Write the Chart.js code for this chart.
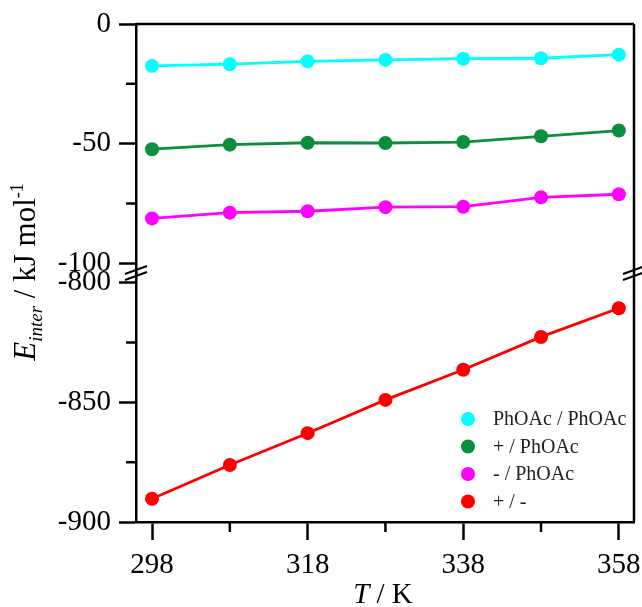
<!DOCTYPE html>
<html>
<head>
<meta charset="utf-8">
<script src="https://cdn.jsdelivr.net/npm/chart.js@4.4.1/dist/chart.umd.min.js"></script>
<style>
  html, body { margin: 0; padding: 0; background: #fff; }
  #wrap { width: 642px; height: 607px; }
</style>
</head>
<body>
<div id="wrap"><canvas id="energyChart" width="642" height="607"></canvas></div>
<script>
// data
var temps = [298, 308, 318, 328, 338, 348, 358];
var phoacPhoac = [-17.5, -16.8, -15.6, -15.0, -14.5, -14.3, -12.8];
var plusPhoac = [-52.3, -50.4, -49.6, -49.7, -49.3, -46.9, -44.5];
var minusPhoac = [-81.2, -78.8, -78.2, -76.5, -76.3, -72.4, -71.1];
var plusMinus = [-890.3, -876.2, -862.9, -849.0, -836.4, -822.7, -810.7];

var seriesLabels = ["PhOAc / PhOAc", "+ / PhOAc", "- / PhOAc", "+ / -"];
var seriesColors = ["#00ffff", "#0b8f3c", "#ff00ff", "#ff0000"];

// ticks
var xMajor = [298, 318, 338, 358];
var xMinor = [308, 328, 348];
var yTopMajor = [0, -50, -100];
var yTopMinor = [-25, -75];
var yBotMajor = [-800, -850, -900];
var yBotMinor = [-825, -875];

var serif = '"Liberation Serif", "Times New Roman", serif';

function pts(vals) {
  return temps.map(function (t, i) { return {x: t, y: vals[i]}; });
}

function ds(idx, vals, axis) {
  return {
    label: seriesLabels[idx],
    data: pts(vals),
    yAxisID: axis,
    borderColor: seriesColors[idx],
    backgroundColor: seriesColors[idx],
    pointBackgroundColor: seriesColors[idx],
    pointBorderWidth: 0,
    pointRadius: 7,
    borderWidth: 2.8,
    tension: 0
  };
}

function yAxis(min, max, major) {
  return {
    type: 'linear',
    position: 'left',
    stack: 'y',
    stackWeight: 1,
    min: min,
    max: max,
    border: {color: '#000', width: 2.5},
    grid: {drawOnChartArea: false, drawTicks: true, tickLength: 17, tickColor: '#000', tickWidth: 2.5},
    ticks: {font: {family: serif, size: 29}, color: '#000', padding: 8,
      callback: function (v) { return String(v); }},
    afterBuildTicks: function (s) { s.ticks = major.map(function (v) { return {value: v}; }); },
    afterFit: function (s) { s.width = 136; s.paddingTop = 0; s.paddingBottom = 0; }
  };
}

// minor ticks, top/right frame, axis breaks, titles, legend
var extras = {
  id: 'extras',
  afterDraw: function (chart) {
    var ctx = chart.ctx, a = chart.chartArea, sc = chart.scales;
    ctx.save();
    ctx.strokeStyle = '#000';
    ctx.lineWidth = 2.5;
    ctx.beginPath();
    ctx.moveTo(a.left, a.top); ctx.lineTo(a.right, a.top);
    ctx.moveTo(a.right, a.top); ctx.lineTo(a.right, a.bottom);
    xMinor.forEach(function (v) {
      var px = sc.x.getPixelForValue(v);
      ctx.moveTo(px, a.bottom); ctx.lineTo(px, a.bottom + 10);
    });
    yTopMinor.forEach(function (v) {
      var py = sc.yTop.getPixelForValue(v);
      ctx.moveTo(a.left - 10, py); ctx.lineTo(a.left, py);
    });
    yBotMinor.forEach(function (v) {
      var py = sc.yBot.getPixelForValue(v);
      ctx.moveTo(a.left - 10, py); ctx.lineTo(a.left, py);
    });
    ctx.stroke();

    // axis break marks
    var by = sc.yTop.bottom;
    ctx.lineWidth = 2;
    ctx.beginPath();
    [a.left, a.right].forEach(function (cx) {
      ctx.moveTo(cx - 11, by + 1); ctx.lineTo(cx + 11, by - 7);
      ctx.moveTo(cx - 11, by + 7); ctx.lineTo(cx + 11, by - 1);
    });
    ctx.stroke();

    // y title
    ctx.fillStyle = '#000';
    ctx.textBaseline = 'alphabetic';
    ctx.textAlign = 'left';
    var parts = [
      {t: 'E', f: 'italic 31px ' + serif, dy: 0},
      {t: 'inter', f: 'italic 19px ' + serif, dy: 7},
      {t: ' / kJ mol', f: '31px ' + serif, dy: 0},
      {t: '-1', f: '18px ' + serif, dy: -12}
    ];
    var total = 0;
    parts.forEach(function (p) { ctx.font = p.f; p.w = ctx.measureText(p.t).width; total += p.w; });
    ctx.save();
    ctx.translate(35, 272);
    ctx.rotate(-Math.PI / 2);
    var xx = -total / 2;
    parts.forEach(function (p) { ctx.font = p.f; ctx.fillText(p.t, xx, p.dy); xx += p.w; });
    ctx.restore();

    // x title
    var xp = [
      {t: 'T', f: 'italic 29px ' + serif},
      {t: ' / K', f: '29px ' + serif}
    ];
    total = 0;
    xp.forEach(function (p) { ctx.font = p.f; p.w = ctx.measureText(p.t).width; total += p.w; });
    xx = 383 - total / 2;
    xp.forEach(function (p) { ctx.font = p.f; ctx.fillText(p.t, xx, 603); xx += p.w; });

    // legend
    ctx.textBaseline = 'middle';
    ctx.font = '20px ' + serif;
    chart.data.datasets.forEach(function (d, i) {
      var ly = a.bottom - 103 + i * 27.5;
      ctx.fillStyle = d.borderColor;
      ctx.beginPath();
      ctx.arc(a.right - 166, ly, 7, 0, Math.PI * 2);
      ctx.fill();
      ctx.fillStyle = '#222';
      ctx.fillText(d.label, a.right - 141, ly + 1);
    });
    ctx.restore();
  }
};

var ctxE = document.getElementById("energyChart").getContext('2d');
var energyChart = new Chart(ctxE, {
  type: 'line',
  data: {
    datasets: [
      ds(0, phoacPhoac, 'yTop'),
      ds(1, plusPhoac, 'yTop'),
      ds(2, minusPhoac, 'yTop'),
      ds(3, plusMinus, 'yBot')
    ]
  },
  options: {
    responsive: false,
    animation: false,
    devicePixelRatio: 1,
    layout: {padding: {top: 24, right: 0, left: 0, bottom: 0}},
    plugins: {legend: {display: false}, tooltip: {enabled: false}},
    scales: {
      x: {
        type: 'linear',
        min: 295.94,
        max: 359.95,
        border: {color: '#000', width: 2.5},
        grid: {drawOnChartArea: false, drawTicks: true, tickLength: 18, tickColor: '#000', tickWidth: 2.5},
        ticks: {font: {family: serif, size: 29}, color: '#000', padding: 8, maxRotation: 0,
          callback: function (v) { return String(v); }},
        afterBuildTicks: function (s) { s.ticks = xMajor.map(function (v) { return {value: v}; }); },
        afterFit: function (s) { s.height = 85; s.paddingLeft = 0; s.paddingRight = 8; }
      },
      yBot: yAxis(-900, -796, yBotMajor),
      yTop: yAxis(-104, 0, yTopMajor)
    }
  },
  plugins: [extras]
});
</script>
</body>
</html>
